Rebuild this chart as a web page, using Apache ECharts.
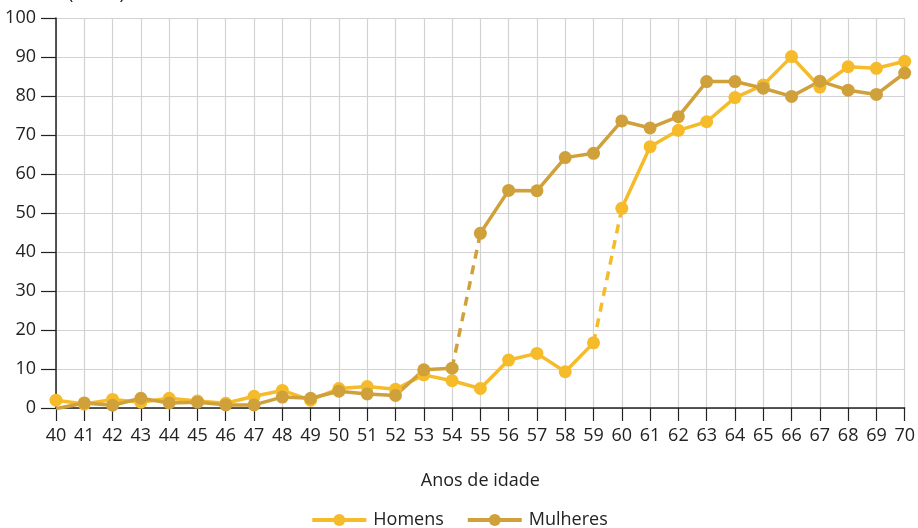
<!DOCTYPE html>
<html>
<head>
<meta charset="utf-8">
<script src="https://cdn.jsdelivr.net/npm/echarts@6/dist/echarts.min.js"></script>
<style>html,body{margin:0;padding:0;background:#fff}#c{width:918px;height:528px}</style>
</head>
<body>
<div id="c"></div>
<script>
var ages = ['40','41','42','43','44','45','46','47','48','49','50','51','52','53','54','55','56','57','58','59','60','61','62','63','64','65','66','67','68','69','70'];
var homens = [2, 1, 2.2, 1.5, 2.5, 1.8, 1.2, 3, 4.5, 2, 5, 5.5, 4.8, 8.5, 7, 5, 12.3, 14, 9.3, 16.7, 51.2, 67, 71.2, 73.4, 79.6, 82.8, 90.1, 82.3, 87.5, 87.1, 88.9];
var mulheres = [-0.2, 1.3, 0.7, 2.5, 1.3, 1.5, 0.8, 0.8, 2.8, 2.5, 4.3, 3.6, 3.2, 9.8, 10.2, 44.8, 55.8, 55.7, 64.2, 65.3, 73.6, 71.8, 74.7, 83.7, 83.7, 82, 79.9, 83.8, 81.5, 80.4, 85.9];
var yTicks = [0, 10, 20, 30, 40, 50, 60, 70, 80, 90, 100];
var homensBreak = 19;   // index of 59 -> dashed to 60
var mulheresBreak = 14; // index of 54 -> dashed to 55

var cH = '#F5BB2A', cM = '#D0A03B';
var font = '"Open Sans", "Noto Sans", sans-serif';

function part(arr, from, to) {
  return arr.map(function (v, i) { return (i >= from && i <= to) ? v : null; });
}
function mk(name, color, data, dashed, sym) {
  return {
    name: name, type: 'line', data: data, connectNulls: false,
    showSymbol: sym, symbol: sym ? 'circle' : 'none', symbolSize: 13,
    itemStyle: { color: color },
    lineStyle: { color: color, width: 3.5, type: dashed ? [9, 7] : 'solid' },
    emphasis: { disabled: true }, animation: false
  };
}
var n = ages.length - 1;
var series = [
  mk('Homens', cH, part(homens, 0, homensBreak), false, true),
  mk('Homens', cH, part(homens, homensBreak, homensBreak + 1), true, false),
  mk('Homens', cH, part(homens, homensBreak + 1, n), false, true),
  mk('Mulheres', cM, part(mulheres, 0, mulheresBreak), false, true),
  mk('Mulheres', cM, part(mulheres, mulheresBreak, mulheresBreak + 1), true, false),
  mk('Mulheres', cM, part(mulheres, mulheresBreak + 1, n), false, true)
];

var chart = echarts.init(document.getElementById('c'));
chart.setOption({
  animation: false,
  textStyle: { fontFamily: font },
  grid: { left: 56, right: 11, top: 18, bottom: 120 },
  graphic: [{ type: 'text', left: 68, top: -15, style: { text: '(Em %)', font: '18px ' + font, fill: '#222' } }],
  legend: {
    top: 506, left: 'center', itemWidth: 54, itemHeight: 15, itemGap: 22,
    data: [{ name: 'Homens' }, { name: 'Mulheres' }],
    lineStyle: { width: 4 },
    textStyle: { fontSize: 18, color: '#222', fontFamily: font, padding: [0, 0, 0, 2] }
  },
  xAxis: {
    type: 'category', data: ages, boundaryGap: false,
    name: 'Anos de idade', nameLocation: 'middle', nameGap: 64,
    nameTextStyle: { fontSize: 18, color: '#222', fontFamily: font },
    axisLine: { lineStyle: { color: '#222', width: 1.5 } },
    axisTick: { show: true, length: 13, lineStyle: { color: '#222', width: 1.2 } },
    axisLabel: { fontSize: 18, color: '#222', margin: 19, fontFamily: font },
    splitLine: { show: true, lineStyle: { color: '#d2d2d2', width: 1.2 } }
  },
  yAxis: {
    type: 'value', min: 0, max: 100, interval: 10,
    axisLine: { show: true, lineStyle: { color: '#222', width: 1.5 } },
    axisTick: { show: true, length: 15, lineStyle: { color: '#222', width: 1.2 } },
    axisLabel: { fontSize: 18, color: '#222', margin: 20, fontFamily: font,
      formatter: function (v) { return yTicks.indexOf(v) >= 0 ? String(v) : ''; } },
    splitLine: { show: true, lineStyle: { color: '#d2d2d2', width: 1.2 } }
  },
  series: series
});
</script>
</body>
</html>
